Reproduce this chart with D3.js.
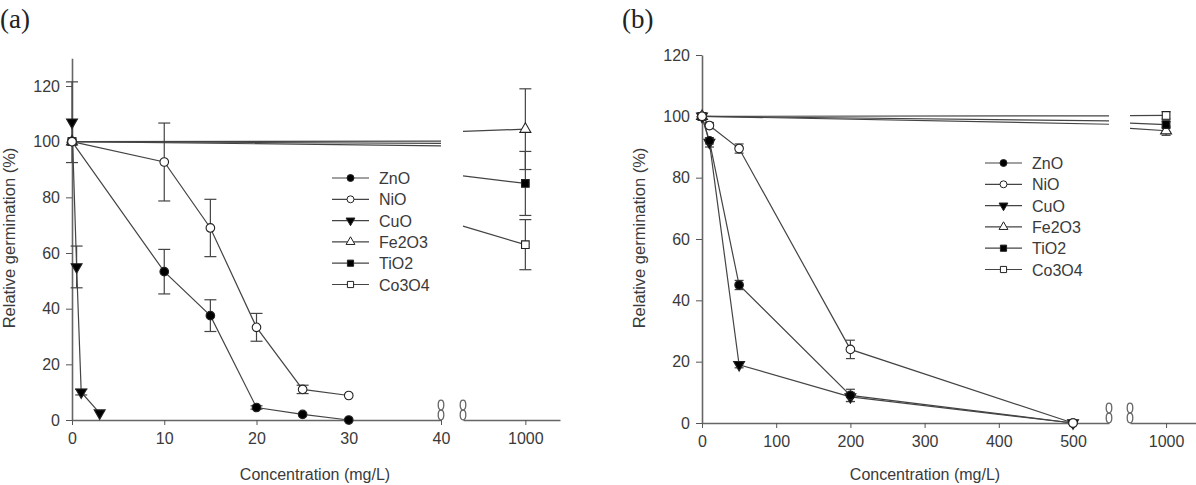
<!DOCTYPE html>
<html>
<head>
<meta charset="utf-8">
<script src="https://cdn.jsdelivr.net/npm/d3@7"></script>
<style>
  body { margin: 0; background: #fff; }
  svg { display: block; font-family: "Liberation Sans", Arial, sans-serif; }
</style>
</head>
<body>
<div id="chart"></div>
<script>
// germination vs. concentration, two panels with broken x axes

const names = ["ZnO", "NiO", "CuO", "Fe2O3", "TiO2", "Co3O4"];

// panel (a): [concentration, relative germination, error]
const aZnO   = [[0, 100, 0], [10, 53.3, 8], [15, 37.5, 5.7], [20, 4.5, 0.6], [25, 2, 0], [30, 0, 0]];
const aNiO   = [[0, 100, 0], [10, 92.7, 14], [15, 69, 10.3], [20, 33.3, 5], [25, 11, 1.5], [30, 8.8, 0]];
const aCuO   = [[0, 107, 14.5], [0.5, 55, 7.5], [1, 10, 1], [3, 2.5, 0]];
const aFe2O3 = [[0, 100, 0], [1000, 104.5, 14.5]];
const aTiO2  = [[0, 100, 0], [1000, 85, 11.5]];
const aCo3O4 = [[0, 100, 0], [1000, 63, 9]];

// panel (b)
const bZnO   = [[0, 100, 0], [10, 92, 1], [50, 45, 1.5], [200, 9, 2], [500, 0, 0]];
const bNiO   = [[0, 100, 0], [10, 97, 1], [50, 89.5, 1.5], [200, 24, 3], [500, 0, 0]];
const bCuO   = [[0, 100, 0], [10, 91.5, 1.5], [50, 19, 1], [200, 8.5, 1.5], [500, 0, 0]];
const bFe2O3 = [[0, 100, 0], [1000, 95.3, 1.5]];
const bTiO2  = [[0, 100, 0], [1000, 97.3, 1]];
const bCo3O4 = [[0, 100, 0], [1000, 100.3, 1.2]];

const aTicksLow = [0, 10, 20, 30, 40];
const bTicksLow = [0, 100, 200, 300, 400, 500];
const highTicks = [1000];
const yTicks = [0, 20, 40, 60, 80, 100, 120];

const W = 1196, H = 485;
const ink = "#3a3a3a";

const svg = d3.select("#chart").append("svg")
    .attr("width", W)
    .attr("height", H);

// marker shapes per series
const shapes = {
    ZnO:   { type: d3.symbolCircle,   fill: "#000", rot: 0 },
    NiO:   { type: d3.symbolCircle,   fill: "#fff", rot: 0 },
    CuO:   { type: d3.symbolTriangle, fill: "#000", rot: 180 },
    Fe2O3: { type: d3.symbolTriangle, fill: "#fff", rot: 0 },
    TiO2:  { type: d3.symbolSquare,   fill: "#000", rot: 0 },
    Co3O4: { type: d3.symbolSquare,   fill: "#fff", rot: 0 }
};

function drawPanel(p) {
    const g = svg.append("g");
    const y = p.y;

    // clip each series to the x segments, following the data-space line
    function pieces(pts) {
        const out = [];
        p.segs.forEach(s => {
            const [d0, d1] = s.domain();
            const cur = [];
            for (let i = 0; i < pts.length - 1; i++) {
                const a = pts[i], b = pts[i + 1];
                const lo = Math.max(a[0], d0), hi = Math.min(b[0], d1);
                if (lo > hi) continue;
                const f = x => a[1] + (b[1] - a[1]) * (x - a[0]) / (b[0] - a[0]);
                if (!cur.length) cur.push([s(lo), y(f(lo))]);
                cur.push([s(hi), y(f(hi))]);
            }
            if (cur.length > 1) out.push(cur);
        });
        return out;
    }
    function xOf(v) {
        const s = p.segs.find(s => v >= s.domain()[0] && v <= s.domain()[1]);
        return s(v);
    }

    // axes
    p.segs.forEach(s => {
        g.append("g")
            .attr("transform", `translate(0,${y(0)})`)
            .call(d3.axisBottom(s).tickValues(p.xTicks.filter(t => t >= s.domain()[0] && t <= s.domain()[1]))
                .tickFormat(d3.format("d"))
                .tickSize(5).tickSizeOuter(0).tickPadding(8))
            .call(a => a.select(".domain").attr("stroke", "#666").attr("stroke-width", 1.6))
            .call(a => a.selectAll(".tick line").attr("stroke", "#555"))
            .call(a => a.selectAll("text").attr("font-size", 16).attr("fill", ink));
    });
    g.append("g")
        .attr("transform", `translate(${p.segs[0](0)},0)`)
        .call(d3.axisLeft(y).tickValues(yTicks).tickSize(6).tickSizeOuter(0).tickPadding(6))
        .call(a => a.select(".domain").attr("stroke", "#666").attr("stroke-width", 1.6))
        .call(a => a.selectAll(".tick line").attr("stroke", "#555"))
        .call(a => a.selectAll("text").attr("font-size", 16).attr("fill", ink));

    // break marks
    p.breaks.forEach(bx => {
        [0, 1].forEach(k => {
            g.append("ellipse")
                .attr("cx", bx).attr("cy", y(0) - 5 - k * 10)
                .attr("rx", 2.8).attr("ry", 4.8)
                .attr("fill", "#fff").attr("stroke", "#666").attr("stroke-width", 1.3);
        });
    });

    const line = d3.line();
    p.series.forEach(sr => {
        pieces(sr.data).forEach(pc => {
            g.append("path").attr("d", line(pc))
                .attr("fill", "none").attr("stroke", "#444").attr("stroke-width", 1.2);
        });
    });

    // error bars
    p.series.forEach(sr => {
        sr.data.filter(d => d[2] > 0).forEach(d => {
            const cx = xOf(d[0]);
            g.append("line").attr("x1", cx).attr("x2", cx)
                .attr("y1", y(d[1] - d[2])).attr("y2", y(d[1] + d[2]))
                .attr("stroke", "#444").attr("stroke-width", 1.2);
            [d[1] - d[2], d[1] + d[2]].forEach(v => {
                g.append("line").attr("x1", cx - p.cap).attr("x2", cx + p.cap)
                    .attr("y1", y(v)).attr("y2", y(v))
                    .attr("stroke", "#444").attr("stroke-width", 1.2);
            });
        });
    });

    // markers, NiO last so its open circle sits on top
    const order = ["CuO", "ZnO", "Fe2O3", "TiO2", "Co3O4", "NiO"];
    order.forEach(nm => {
        const sr = p.series.find(s => s.name === nm);
        const sh = shapes[nm];
        sr.data.forEach(d => {
            g.append("path")
                .attr("d", d3.symbol(sh.type, sh.type === d3.symbolTriangle ? 52 : 58)())
                .attr("transform", `translate(${xOf(d[0])},${y(d[1])}) rotate(${sh.rot})`)
                .attr("fill", sh.fill).attr("stroke", "#222").attr("stroke-width", 1.1);
        });
    });

    // legend
    const lg = g.append("g").attr("transform", `translate(${p.legend[0]},${p.legend[1]})`);
    names.forEach((nm, i) => {
        const row = lg.append("g").attr("transform", `translate(0,${i * 21.3})`);
        row.append("line").attr("x1", 0).attr("x2", 37).attr("stroke", "#444").attr("stroke-width", 1.2);
        const sh = shapes[nm];
        row.append("path")
            .attr("d", d3.symbol(sh.type, sh.type === d3.symbolTriangle ? 34 : 38)())
            .attr("transform", `translate(18.5,0) rotate(${sh.rot})`)
            .attr("fill", sh.fill).attr("stroke", "#222").attr("stroke-width", 1);
        row.append("text").attr("x", 47).attr("y", 6)
            .attr("font-size", 16).attr("fill", ink).text(nm);
    });

    // titles
    g.append("text")
        .attr("transform", `translate(${p.yLabel[0]},${p.yLabel[1]}) rotate(-90)`)
        .attr("text-anchor", "middle").attr("font-size", 16.5).attr("fill", ink)
        .text("Relative germination (%)");
    g.append("text")
        .attr("x", p.xLabel[0]).attr("y", p.xLabel[1])
        .attr("text-anchor", "middle").attr("font-size", 16).attr("fill", ink)
        .text("Concentration (mg/L)");
    g.append("text")
        .attr("x", p.tag[0]).attr("y", p.tag[1])
        .attr("font-family", "'Liberation Serif', 'DejaVu Serif', serif")
        .attr("font-size", 27).attr("fill", "#222")
        .text(p.tagText);
}

drawPanel({
    y: d3.scaleLinear().domain([0, 130]).range([420, 58.2]),
    segs: [
        d3.scaleLinear().domain([0, 40]).range([72, 441]),
        d3.scaleLinear().domain([820, 1100]).range([463, 560])
    ],
    xTicks: aTicksLow.concat(highTicks),
    breaks: [441, 463],
    cap: 6,
    series: [
        { name: "ZnO", data: aZnO }, { name: "NiO", data: aNiO }, { name: "CuO", data: aCuO },
        { name: "Fe2O3", data: aFe2O3 }, { name: "TiO2", data: aTiO2 }, { name: "Co3O4", data: aCo3O4 }
    ],
    legend: [332, 178],
    yLabel: [15, 238],
    xLabel: [315, 480],
    tag: [0, 28],
    tagText: "(a)"
});

drawPanel({
    y: d3.scaleLinear().domain([0, 120]).range([423, 55]),
    segs: [
        d3.scaleLinear().domain([0, 548.5]).range([702, 1109]),
        d3.scaleLinear().domain([830, 1141]).range([1130, 1196])
    ],
    xTicks: bTicksLow.concat(highTicks),
    breaks: [1109, 1130],
    cap: 4.5,
    series: [
        { name: "ZnO", data: bZnO }, { name: "NiO", data: bNiO }, { name: "CuO", data: bCuO },
        { name: "Fe2O3", data: bFe2O3 }, { name: "TiO2", data: bTiO2 }, { name: "Co3O4", data: bCo3O4 }
    ],
    legend: [985, 163],
    yLabel: [645, 238],
    xLabel: [925, 480],
    tag: [622, 28],
    tagText: "(b)"
});
</script>
</body>
</html>
